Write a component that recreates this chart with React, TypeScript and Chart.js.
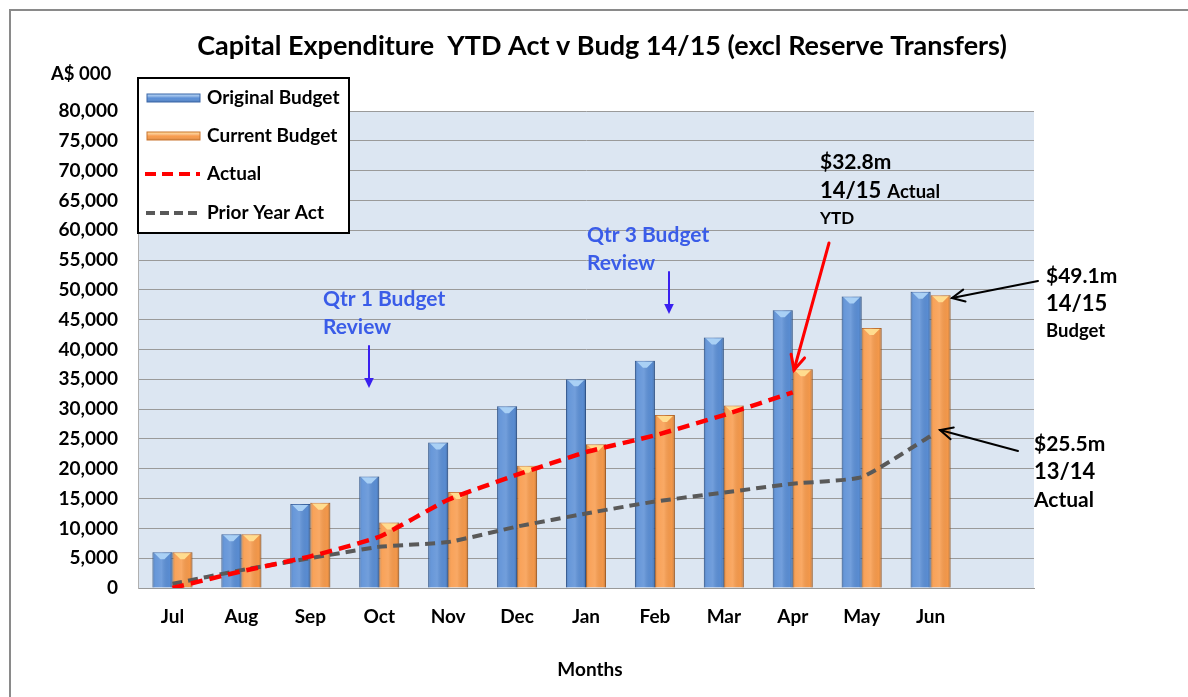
import React, { useEffect, useRef } from "react";
import { Chart, registerables } from "chart.js";

Chart.register(...registerables);

const months = ["Jul", "Aug", "Sep", "Oct", "Nov", "Dec", "Jan", "Feb", "Mar", "Apr", "May", "Jun", ""];
const originalBudget = [6000, 9000, 14100, 18700, 24400, 30500, 35000, 38100, 42000, 46600, 48900, 49700, null];
const currentBudget = [6000, 9000, 14300, 11000, 16100, 20500, 24100, 29000, 30600, 36700, 43600, 49100, null];
const actual = [0, 2800, 5300, 8600, 14800, 19000, 22800, 25600, 29000, 32800, null, null, null];
const priorYear = [700, 3000, 5000, 6900, 7700, 10300, 12500, 14500, 16000, 17500, 18600, 25500, null];

const FONT = "Lato, 'Open Sans', sans-serif";
const BLUE = "#5b8fd6";
const BLUE_EDGE = "#3b67a8";
const BLUE_TOP = "#a9d0f5";
const ORANGE = "#f89b4c";
const ORANGE_EDGE = "#c9742e";
const ORANGE_TOP = "#ffdc8f";
const RED = "#ff0000";
const GREY = "#595959";
const ANNOT_BLUE = "#3a5ce8";
const ARROW_BLUE = "#3a20f0";

function arrow(ctx: CanvasRenderingContext2D, x1: number, y1: number, x2: number, y2: number, color: string, width: number, filled: boolean, head: number) {
  const ang = Math.atan2(y2 - y1, x2 - x1);
  ctx.save();
  ctx.strokeStyle = color;
  ctx.fillStyle = color;
  ctx.lineWidth = width;
  ctx.lineCap = "round";
  ctx.beginPath();
  ctx.moveTo(x1, y1);
  if (filled) {
    ctx.lineTo(x2 - Math.cos(ang) * head * 0.8, y2 - Math.sin(ang) * head * 0.8);
  } else {
    ctx.lineTo(x2, y2);
  }
  ctx.stroke();
  const a1 = ang + Math.PI - 0.45;
  const a2 = ang + Math.PI + 0.45;
  ctx.beginPath();
  if (filled) {
    ctx.moveTo(x2, y2);
    ctx.lineTo(x2 + Math.cos(a1) * head, y2 + Math.sin(a1) * head);
    ctx.lineTo(x2 + Math.cos(a2) * head, y2 + Math.sin(a2) * head);
    ctx.closePath();
    ctx.fill();
  } else {
    ctx.moveTo(x2 + Math.cos(a1) * head, y2 + Math.sin(a1) * head);
    ctx.lineTo(x2, y2);
    ctx.lineTo(x2 + Math.cos(a2) * head, y2 + Math.sin(a2) * head);
    ctx.stroke();
  }
  ctx.restore();
}

function barShade(ctx: CanvasRenderingContext2D, left: number, top: number, w: number, h: number, topColor: string) {
  const g = ctx.createLinearGradient(left, 0, left + w, 0);
  g.addColorStop(0, "rgba(0,0,0,0.18)");
  g.addColorStop(0.15, "rgba(255,255,255,0.08)");
  g.addColorStop(0.45, "rgba(255,255,255,0.14)");
  g.addColorStop(0.85, "rgba(0,0,0,0.02)");
  g.addColorStop(1, "rgba(0,0,0,0.22)");
  ctx.fillStyle = g;
  ctx.fillRect(left, top, w, h);
  if (h > 6) {
    ctx.fillStyle = topColor;
    ctx.beginPath();
    ctx.moveTo(left + 2, top + 1);
    ctx.lineTo(left + w - 2, top + 1);
    ctx.lineTo(left + w / 2 + 2, top + 7);
    ctx.lineTo(left + w / 2 - 2, top + 7);
    ctx.closePath();
    ctx.fill();
  }
}

const decorPlugin = {
  id: "decor",
  beforeDraw(chart: any) {
    const { ctx, chartArea } = chart;
    ctx.save();
    ctx.fillStyle = "#ffffff";
    ctx.fillRect(0, 0, chart.width, chart.height);
    ctx.fillStyle = "#dce6f2";
    ctx.fillRect(chartArea.left, chartArea.top, chartArea.right - chartArea.left, chartArea.bottom - chartArea.top);
    ctx.restore();
  },
  afterDatasetDraw(chart: any, args: any) {
    const idx = args.index;
    if (idx !== 0 && idx !== 1) return;
    const ctx = chart.ctx;
    const meta = chart.getDatasetMeta(idx);
    ctx.save();
    meta.data.forEach((el: any) => {
      if (el.skip || el.y == null || isNaN(el.y)) return;
      const w = el.width;
      const left = el.x - w / 2;
      const top = Math.min(el.y, el.base);
      const h = Math.abs(el.base - el.y);
      barShade(ctx, left, top, w, h, idx === 0 ? BLUE_TOP : ORANGE_TOP);
    });
    ctx.restore();
  },
  afterDraw(chart: any) {
    const ctx: CanvasRenderingContext2D = chart.ctx;
    ctx.save();
    // outer border
    ctx.strokeStyle = "#8a8a8a";
    ctx.lineWidth = 2;
    ctx.strokeRect(10, 10, 1200, 720);

    // title
    ctx.fillStyle = "#000";
    ctx.textBaseline = "middle";
    ctx.textAlign = "center";
    ctx.font = `bold 27px ${FONT}`;
    ctx.fillText("Capital Expenditure  YTD Act v Budg 14/15 (excl Reserve Transfers)", 602, 46);

    // unit label
    ctx.textAlign = "left";
    ctx.font = `bold 18.5px ${FONT}`;
    ctx.fillText("A$ 000", 51, 74);

    // x axis title
    ctx.textAlign = "center";
    ctx.font = `bold 19px ${FONT}`;
    ctx.fillText("Months", 590, 670);

    // legend
    ctx.fillStyle = "#fff";
    ctx.fillRect(138, 78, 211, 155);
    ctx.strokeStyle = "#000";
    ctx.lineWidth = 2;
    ctx.strokeRect(138, 78, 211, 155);
    const rows = [98, 136, 174, 213];
    const names = ["Original Budget", "Current Budget", "Actual", "Prior Year Act"];
    const sw = [
      { y: rows[0], fill: BLUE, edge: BLUE_EDGE, top: BLUE_TOP },
      { y: rows[1], fill: ORANGE, edge: ORANGE_EDGE, top: ORANGE_TOP },
    ];
    sw.forEach((s) => {
      ctx.fillStyle = s.fill;
      ctx.fillRect(147, s.y - 4, 53, 8);
      const g = ctx.createLinearGradient(0, s.y - 4, 0, s.y + 4);
      g.addColorStop(0, s.top);
      g.addColorStop(0.5, "rgba(255,255,255,0)");
      g.addColorStop(1, "rgba(0,0,0,0.15)");
      ctx.fillStyle = g;
      ctx.fillRect(147, s.y - 4, 53, 8);
      ctx.strokeStyle = s.edge;
      ctx.lineWidth = 1;
      ctx.strokeRect(147, s.y - 4, 53, 8);
    });
    ctx.lineWidth = 4;
    ctx.setLineDash([11, 6]);
    ctx.strokeStyle = RED;
    ctx.beginPath();
    ctx.moveTo(145, rows[2]);
    ctx.lineTo(200, rows[2]);
    ctx.stroke();
    ctx.setLineDash([9, 5]);
    ctx.strokeStyle = GREY;
    ctx.beginPath();
    ctx.moveTo(146, rows[3]);
    ctx.lineTo(201, rows[3]);
    ctx.stroke();
    ctx.setLineDash([]);
    ctx.fillStyle = "#000";
    ctx.textAlign = "left";
    ctx.font = `bold 19px ${FONT}`;
    names.forEach((n, i) => ctx.fillText(n, 207, rows[i]));

    // Qtr annotations
    ctx.fillStyle = ANNOT_BLUE;
    ctx.font = `bold 21px ${FONT}`;
    ctx.fillText("Qtr 1 Budget", 323, 299);
    ctx.fillText("Review", 323, 327);
    ctx.fillText("Qtr 3 Budget", 587, 235);
    ctx.fillText("Review", 587, 263);
    arrow(ctx, 369, 346, 369, 388, ARROW_BLUE, 2, true, 11);
    arrow(ctx, 669, 272, 669, 314, ARROW_BLUE, 2, true, 11);

    // $32.8m annotation
    ctx.fillStyle = "#000";
    ctx.font = `bold 21px ${FONT}`;
    ctx.fillText("$32.8m", 820, 162);
    ctx.font = `bold 22px ${FONT}`;
    ctx.fillText("14/15", 820, 191);
    const w1 = ctx.measureText("14/15").width;
    ctx.font = `bold 18.5px ${FONT}`;
    ctx.fillText("Actual", 820 + w1 + 6, 192);
    ctx.font = `bold 17px ${FONT}`;
    ctx.fillText("YTD", 820, 219);
    arrow(ctx, 829, 243, 794, 370, RED, 3, false, 16);

    // $49.1m
    ctx.font = `bold 21px ${FONT}`;
    ctx.fillText("$49.1m", 1046, 276);
    ctx.font = `bold 22px ${FONT}`;
    ctx.fillText("14/15", 1046, 304);
    ctx.font = `bold 18.5px ${FONT}`;
    ctx.fillText("Budget", 1046, 331);
    arrow(ctx, 1038, 281, 952, 298, "#000", 2, false, 14);

    // $25.5m
    ctx.font = `bold 21px ${FONT}`;
    ctx.fillText("$25.5m", 1034, 444);
    ctx.font = `bold 22px ${FONT}`;
    ctx.fillText("13/14", 1034, 472);
    ctx.font = `bold 21px ${FONT}`;
    ctx.fillText("Actual", 1034, 500);
    arrow(ctx, 1018, 451, 940, 430, "#000", 2, false, 14);

    ctx.restore();
  },
};

export default function App() {
  const ref = useRef<HTMLCanvasElement>(null);
  useEffect(() => {
    if (!ref.current) return;
    const chart = new Chart(ref.current, {
      type: "bar",
      data: {
        labels: months,
        datasets: [
          {
            type: "bar",
            label: "Original Budget",
            data: originalBudget,
            backgroundColor: BLUE,
            borderColor: BLUE_EDGE,
            borderWidth: 1,
            categoryPercentage: 0.58,
            barPercentage: 1,
            order: 2,
          },
          {
            type: "bar",
            label: "Current Budget",
            data: currentBudget,
            backgroundColor: ORANGE,
            borderColor: ORANGE_EDGE,
            borderWidth: 1,
            categoryPercentage: 0.58,
            barPercentage: 1,
            order: 2,
          },
          {
            type: "line",
            label: "Actual",
            data: actual,
            borderColor: RED,
            borderWidth: 4.5,
            borderDash: [12, 7],
            pointRadius: 0,
            tension: 0.15,
            spanGaps: false,
            order: 0,
          },
          {
            type: "line",
            label: "Prior Year Act",
            data: priorYear,
            borderColor: GREY,
            borderWidth: 4,
            borderDash: [10, 6],
            pointRadius: 0,
            tension: 0.15,
            order: 1,
          },
        ] as any,
      },
      options: {
        responsive: false,
        animation: false,
        layout: { padding: { left: 0, top: 111, right: 154, bottom: 0 } },
        plugins: {
          legend: { display: false },
          title: { display: false },
          tooltip: { enabled: false },
        },
        scales: {
          x: {
            grid: { display: false, drawTicks: false },
            border: { display: true, color: "#999999", width: 1 },
            ticks: {
              color: "#000",
              padding: 17,
              font: { family: FONT, size: 19, weight: "bold" },
            },
            afterFit: (s: any) => {
              s.height = 109;
            },
          },
          y: {
            min: 0,
            max: 80000,
            grid: { color: "#9a9a9a", lineWidth: 1, drawTicks: false },
            border: { display: true, color: "#b0b0b0" },
            ticks: {
              stepSize: 5000,
              color: "#000",
              padding: 20,
              font: { family: FONT, size: 19, weight: "bold" },
              callback: (v: any) => Number(v).toLocaleString("en-US"),
            },
            afterFit: (s: any) => {
              s.width = 138;
            },
          },
        },
      } as any,
      plugins: [decorPlugin],
    });
    return () => chart.destroy();
  }, []);
  return (
    <div style={{ position: "fixed", left: 0, top: 0, width: 1188, height: 697, background: "#fff" }}>
      <canvas ref={ref} width={1188} height={697} style={{ display: "block" }} />
    </div>
  );
}
